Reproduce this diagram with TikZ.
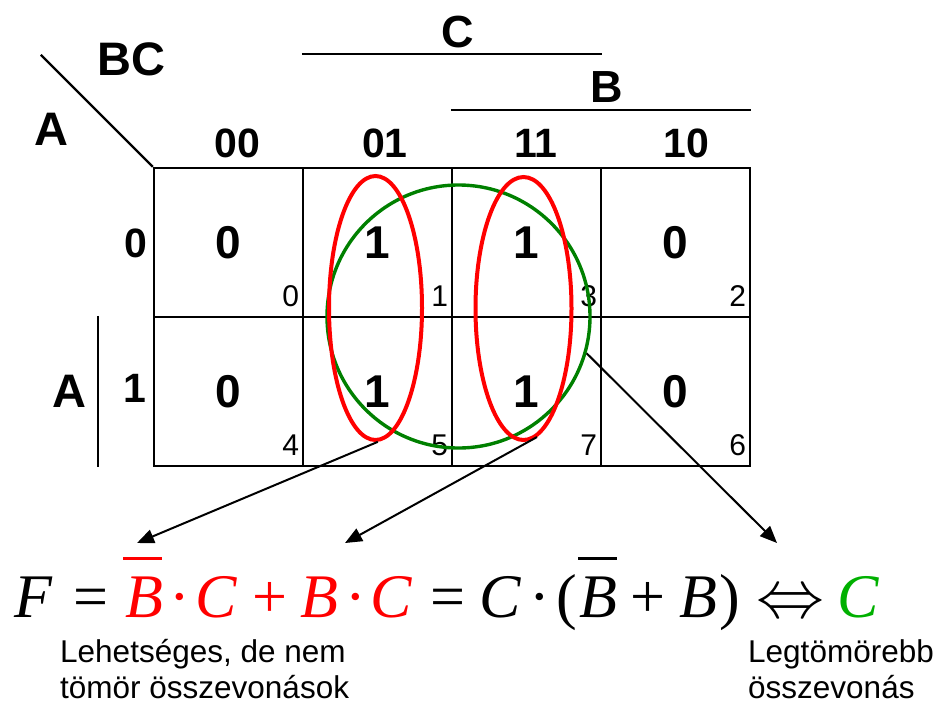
\RequirePackage{fix-cm}
\documentclass[tikz,border=0pt]{standalone}
\usepackage{fontspec}
\setmainfont{Liberation Serif}
\newfontfamily\arial{Liberation Sans}
\usetikzlibrary{arrows.meta,shapes.geometric,calc}
\definecolor{kred}{RGB}{255,0,0}
\definecolor{kgreen}{RGB}{0,128,0}
\definecolor{tgreen}{RGB}{0,176,0}
\tikzset{
  big/.style={font=\arial\bfseries\fontsize{47}{47}\selectfont, inner sep=0, anchor=base},
  mid/.style={font=\arial\bfseries\fontsize{41}{41}\selectfont, inner sep=0, anchor=base},
  cell/.style={draw, line width=2.3pt, minimum size=149pt, inner sep=0,
    font=\arial\bfseries\fontsize{46}{46}\selectfont},
  idx/.style={font=\arial\fontsize{30}{30}\selectfont, inner sep=0, anchor=base east},
  note/.style={font=\arial\fontsize{31.5}{31.5}\selectfont, inner sep=0, anchor=base west},
  fm/.style={font=\fontsize{62}{62}\selectfont, inner sep=0, anchor=base},
  fi/.style={fm, font=\fontsize{62}{62}\selectfont\itshape},
  rule/.style={line width=2.3pt},
  arr/.style={line width=2pt, -{Triangle[length=17pt,width=14pt]}},
  redloop/.style={ellipse, draw=kred, line width=4pt, inner sep=0},
  bar/.style={line width=3pt},
}
\begin{document}
\begin{tikzpicture}[x=1pt,y=-1pt]
\useasboundingbox (0,0) rectangle (940,705);
% cells
\node[cell] (k0) at (228.5,242.5) {0};
\node[cell] (k1) at (377.5,242.5) {1};
\node[cell] (k3) at (526.5,242.5) {1};
\node[cell] (k2) at (675.5,242.5) {0};
\node[cell] (k4) at (228.5,391.5) {0};
\node[cell] (k5) at (377.5,391.5) {1};
\node[cell] (k7) at (526.5,391.5) {1};
\node[cell] (k6) at (675.5,391.5) {0};
% cell indices
\foreach \i in {0,...,7}{
  \node[idx] (n\i) at ($(k\i.south east)+(-5,-11.5)$) {\i};
}
% headers
\draw[rule] (k0.north west) -- ++(-112,-112);
\node[big] (lbc) at (131.5,75) {BC};
\node[big] (la1) at (51,145) {A};
\node[big, font=\arial\bfseries\fontsize{45}{45}\selectfont] (lc) at (457.5,47) {C};
\node[big, font=\arial\bfseries\fontsize{45}{45}\selectfont] (lb) at (607,102) {B};
\draw[rule] ($(k1.north west)+(0,-113)$) -- ($(k3.north east)+(0,-113)$);
\draw[rule] ($(k3.north west)+(0,-57)$) -- ($(k2.north east)+(0,-57)$);
\node[mid] (h00) at (237.5,157) {00};
\node[mid] (h01) at (385,157) {01};
\node[mid] (h11) at (536,157) {11};
\node[mid] (h10) at (686,157) {10};
\node[mid] (r0) at (136,257) {0};
\node[mid] (r1) at (134.5,402) {1};
\node[big] (la2) at (69.5,407) {A};
\draw[rule] ($(k4.north west)+(-55,0)$) -- ($(k4.south west)+(-55,0)$);
% groups
\node[circle, draw=kgreen, line width=3.4pt, minimum size=263pt, inner sep=0] (g) at (458.5,316.5) {};
\node[redloop, minimum width=93pt, minimum height=264pt] (e1) at (375.5,308) {};
\node[redloop, minimum width=96pt, minimum height=263pt] (e2) at (523.5,308.5) {};
% formula
\node[fi] (f1) at (33,617) {F};
\node[fm] (f2) at (90.5,617) {=};
\node[fi, text=kred] (f3) at (144.5,617) {B};
\node[fm, text=kred] (f4) at (180,617) {·};
\node[fi, text=kred] (f5) at (216,617) {C};
\node[fm, text=kred] (f6) at (269.5,617) {+};
\node[fi, text=kred] (f7) at (319.5,617) {B};
\node[fm, text=kred] (f8) at (356,617) {·};
\node[fi, text=kred] (f9) at (391,617) {C};
\node[fm] (f10) at (447.5,617) {=};
\node[fi] (f11) at (500,617) {C};
\node[fm] (f12) at (540,617) {·};
\node[fm] (f13) at (566.5,617) {(};
\node[fi] (f14) at (598.5,617) {B};
\node[fm] (f15) at (647.5,617) {+};
\node[fi] (f16) at (698.5,617) {B};
\node[fm] (f17) at (730,617) {)};
\node[fm, font=\fontsize{68}{68}\selectfont] (f18) at (790,617) {$\Leftrightarrow$};
\node[fi, text=tgreen] (f19) at (858,617) {C};
\draw[bar, kred] ($(f3.base)+(-21.5,-59)$) -- ($(f3.base)+(17.5,-59)$);
\draw[bar] ($(f14.base)+(-20.5,-59)$) -- ($(f14.base)+(18.5,-59)$);
% arrows
\coordinate (t1) at (137,543);
\coordinate (t2) at (345,543);
\coordinate (t3) at (777,543);
\draw[arr] (e1.-89) -- (t1);
\draw[arr] (e2.-84) -- (t2);
\draw[arr] (g.-16) -- (t3);
% notes
\node[note] (m1) at (60,662) {Lehetséges, de nem};
\node[note] (m2) at (60,698) {tömör összevonások};
\node[note] (m3) at (748,662) {Legtömörebb};
\node[note] (m4) at (748,698) {összevonás};
\end{tikzpicture}
\end{document}
